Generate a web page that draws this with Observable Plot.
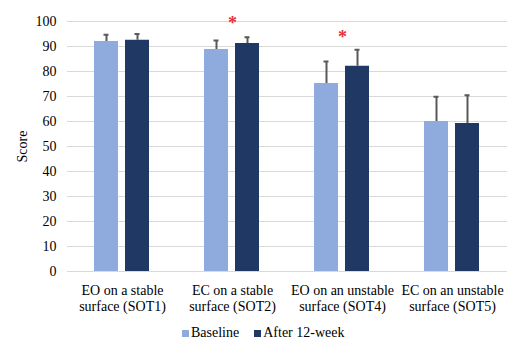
<!DOCTYPE html>
<html><head><meta charset="utf-8">
<script src="https://cdn.jsdelivr.net/npm/d3@7"></script>
<script src="https://cdn.jsdelivr.net/npm/@observablehq/plot@0.6"></script>
<style>
body{margin:0;background:#fff;font-family:"Liberation Serif","Times New Roman",serif;}
svg text{font-family:"Liberation Serif","Times New Roman",serif !important;}
#legend{display:flex;align-items:center;font-size:14px;color:#000;padding-left:182px;height:24px;margin-top:3px;}
#legend .item{display:flex;align-items:center;margin-right:15px;}
#legend .sw{width:7px;height:7px;margin-right:2px;}
</style></head><body><div id="chart"></div><div id="legend"></div>
<script>
const categories = ["EO on a stable\nsurface (SOT1)", "EC on a stable\nsurface (SOT2)", "EO on an unstable\nsurface (SOT4)", "EC on an unstable\nsurface (SOT5)"];
const series = ["Baseline", "After 12-week"];
const colors = ["#8faadc", "#203864"];
const baseline = [92.0, 88.8, 75.2, 60.0];
const after = [92.5, 91.2, 82.1, 59.2];
const baselineSD = [2.7, 3.6, 8.8, 9.9];
const afterSD = [2.5, 2.5, 6.6, 11.3];
const starCategories = [categories[1], categories[2]];
const starY = [99.4, 93.9];
const yTicks = [0, 10, 20, 30, 40, 50, 60, 70, 80, 90, 100];

const rows = categories.flatMap((c, i) => [
  {cat: c, series: series[0], value: baseline[i], sd: baselineSD[i]},
  {cat: c, series: series[1], value: after[i], sd: afterSD[i]}
]);
const stars = starCategories.map((c, i) => ({cat: c, y: starY[i]}));
const serif = '"Liberation Serif","Times New Roman",serif';

const chart = Plot.plot({
  width: 517, height: 318,
  marginTop: 21, marginBottom: 47, marginLeft: 66, marginRight: 10,
  style: {fontFamily: serif, fontSize: "14px", color: "#000", background: "#fff"},
  fx: {domain: categories, padding: 0},
  x: {domain: series, axis: null, paddingInner: 0.22, paddingOuter: 0.86},
  y: {domain: [0, 100]},
  color: {domain: series, range: colors},
  marks: [
    Plot.gridY(yTicks, {stroke: "#d9d9d9", strokeOpacity: 1}),
    Plot.axisY({ticks: yTicks, tickSize: 0, tickPadding: 11, label: "Score", labelAnchor: "center", labelOffset: 50, labelArrow: false, fontSize: 14, fontFamily: serif}),
    Plot.axisFx({anchor: "bottom", tickSize: 0, tickPadding: 12, label: null, lineHeight: 1.15, fontSize: 14, fontFamily: serif}),
    Plot.barY(rows, {fx: "cat", x: "series", y: "value", fill: "series"}),
    Plot.ruleX(rows, {fx: "cat", x: "series", y1: "value", y2: d => d.value + d.sd, stroke: "#595959", strokeWidth: 2}),
    Plot.tickY(rows, {fx: "cat", x: "series", y: d => d.value + d.sd, stroke: "#595959", strokeWidth: 2, insetLeft: 9.5, insetRight: 9.5}),
    Plot.text(stars, {fx: "cat", y: "y", text: () => "*", fill: "#e8303a", fontSize: 18, fontFamily: serif, fontWeight: "bold"})
  ]
});
document.getElementById("chart").appendChild(chart);

const legend = document.getElementById("legend");
series.forEach((s, i) => {
  const item = document.createElement("div");
  item.className = "item";
  const sw = document.createElement("div");
  sw.className = "sw";
  sw.style.background = colors[i];
  const t = document.createElement("span");
  t.textContent = s;
  item.appendChild(sw); item.appendChild(t);
  legend.appendChild(item);
});
</script></body></html>
